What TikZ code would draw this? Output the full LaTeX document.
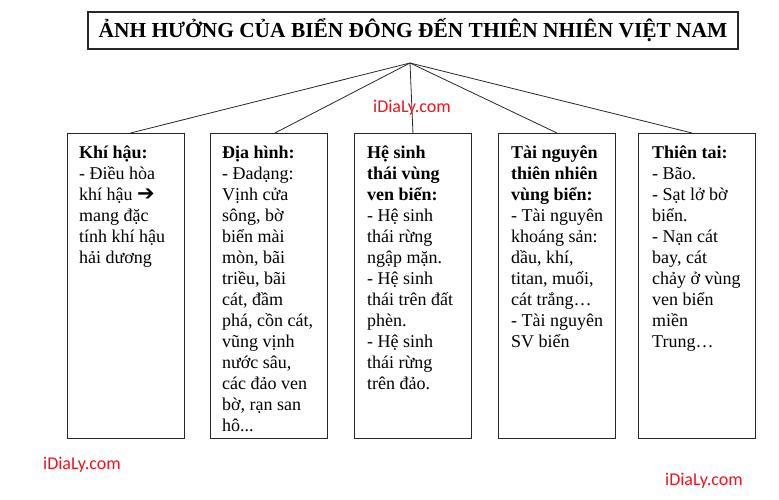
\documentclass[tikz,border=0pt]{standalone}
\usepackage{fontspec}
\setmainfont{Liberation Serif}
\newfontfamily\wmfont{Carlito}
\newfontfamily\symfont{DejaVu Sans}
\definecolor{wmred}{RGB}{240,20,30}
\definecolor{edgec}{RGB}{40,40,40}
\begin{document}
\begin{tikzpicture}[x=1pt,y=-1pt,
  box/.style={draw=edgec,line width=0.9pt,minimum width=117pt,minimum height=305pt,anchor=north west,inner sep=0pt},
  txt/.style={anchor=north west,inner sep=0pt,align=left,font=\fontsize{18}{21}\selectfont},
  link/.style={draw=edgec,line width=0.8pt},
  wm/.style={text=wmred,font=\wmfont\fontsize{18}{20}\selectfont}]
\useasboundingbox (0,0) rectangle (779,500);
\node[draw=edgec,line width=1.2pt,minimum width=650pt,minimum height=37pt,inner sep=0pt,font=\bfseries\fontsize{21.4}{24}\selectfont] (title) at (413,30.5) {ẢNH HƯỞNG CỦA BIỂN ĐÔNG ĐẾN THIÊN NHIÊN VIỆT NAM};
\coordinate (apex) at (410,63);
\node[box] (b1) at (67,133) {};
\node[box] (b2) at (210,133) {};
\node[box] (b3) at (354,133) {};
\node[box] (b4) at (498,133) {};
\node[box] (b5) at (638,133) {};
\draw[link] (apex) -- ([xshift=4.5pt]b1.north);
\draw[link] (apex) -- ([xshift=6pt]b2.north);
\draw[link] (apex) -- (b3.north);
\draw[link] (apex) -- (b4.north);
\draw[link] (apex) -- ([xshift=-5pt]b5.north);
\node[txt] (t1) at (79,146) {\textbf{Khí hậu:}\\- Điều hòa\\khí hậu {\symfont\bfseries\fontsize{21}{21}\selectfont ➔}\\mang đặc\\tính khí hậu\\hải dương};
\node[txt] (t2) at (222,146) {\textbf{Địa hình:}\\- Đadạng:\\Vịnh cửa\\sông, bờ\\biển mài\\mòn, bãi\\triều, bãi\\cát, đầm\\phá, cồn cát,\\vũng vịnh\\nước sâu,\\các đảo ven\\bờ, rạn san\\hô...};
\node[txt] (t3) at (367,146) {\textbf{Hệ sinh}\\\textbf{thái vùng}\\\textbf{ven biển:}\\- Hệ sinh\\thái rừng\\ngập mặn.\\- Hệ sinh\\thái trên đất\\phèn.\\- Hệ sinh\\thái rừng\\trên đảo.};
\node[txt] (t4) at (511,146) {\textbf{Tài nguyên}\\\textbf{thiên nhiên}\\\textbf{vùng biển:}\\- Tài nguyên\\khoáng sản:\\dầu, khí,\\titan, muối,\\cát trắng…\\- Tài nguyên\\SV biển};
\node[txt] (t5) at (652,146) {\textbf{Thiên tai:}\\- Bão.\\- Sạt lở bờ\\biển.\\- Nạn cát\\bay, cát\\chảy ở vùng\\ven biển\\miền\\Trung…};
\node[wm] (w1) at (412,108) {iDiaLy.com};
\node[wm] (w2) at (82,465) {iDiaLy.com};
\node[wm] (w3) at (704,481) {iDiaLy.com};
\end{tikzpicture}
\end{document}
